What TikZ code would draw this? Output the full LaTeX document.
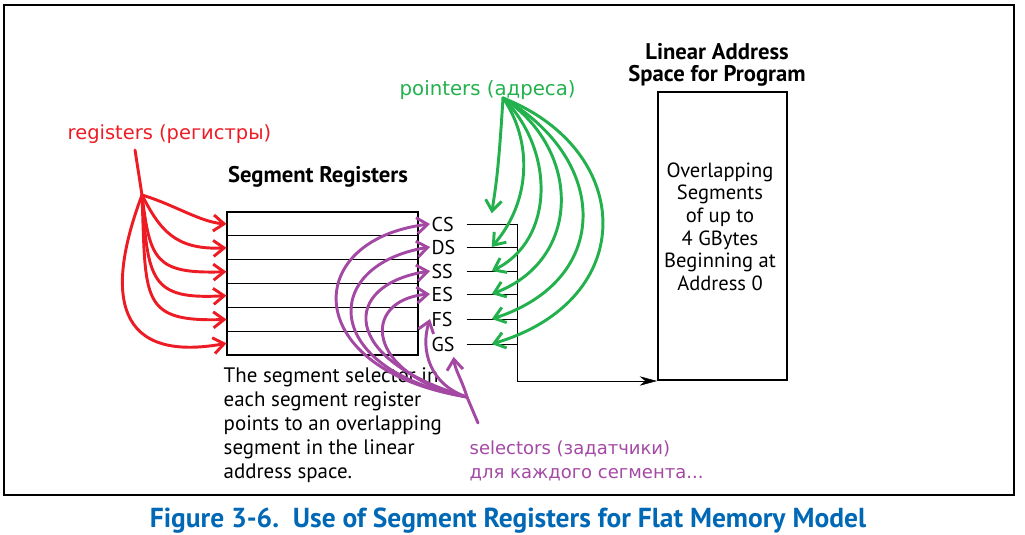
\documentclass[tikz,border=0pt]{standalone}
\usepackage{fontspec}
\setmainfont{PT Sans}
\newfontfamily\penfont{DejaVu Sans}
\usetikzlibrary{arrows.meta, positioning}
\definecolor{penred}{RGB}{237,28,36}
\definecolor{pengreen}{RGB}{34,177,76}
\definecolor{penpurple}{RGB}{163,73,164}
\definecolor{intelblue}{RGB}{0,104,181}

\begin{document}
\begin{tikzpicture}[
    x=0.75pt, y=-0.75pt,
    segrow/.style={rectangle, draw=black, line width=0.7pt, minimum width=143.25pt, minimum height=17.9pt, inner sep=0pt, outer sep=0pt},
    seglabel/.style={anchor=west, text width=25pt, inner sep=1pt, font=\fontsize{15}{16}\selectfont},
    heading/.style={font=\bfseries\fontsize{17}{16.5}\selectfont, align=center},
    body/.style={font=\fontsize{15.7}{18}\selectfont},
    note/.style={font=\penfont\fontsize{13.5}{18}\selectfont, align=left},
    pen/.style={line width=2.2pt, line cap=round, line join=round},
    penarrow/.style={pen, -{Straight Barb[length=8pt, width=12pt]}}
  ]
  \useasboundingbox (0,0) rectangle (1025,535);
  \draw[line width=1.6pt] (4,5) rectangle (1014,495);

  % segment registers
  \node[segrow] (row1) at (322,224) {};
  \node[segrow, below=0pt of row1] (row2) {};
  \node[segrow, below=0pt of row2] (row3) {};
  \node[segrow, below=0pt of row3] (row4) {};
  \node[segrow, below=0pt of row4] (row5) {};
  \node[segrow, below=0pt of row5] (row6) {};
  \draw[line width=1.5pt] (row1.north west) rectangle (row6.south east);
  \node[heading] (segtitle) at (318,177) {Segment Registers};

  \node[seglabel] (cs) at (430,224) {CS};
  \node[seglabel] (ds) at (430,247) {DS};
  \node[seglabel] (ss) at (430,271) {SS};
  \node[seglabel] (es) at (430,294) {ES};
  \node[seglabel] (fs) at (430,319) {FS};
  \node[seglabel] (gs) at (430,344) {GS};

  \coordinate (bus) at (517,224);
  \draw (cs.east) -- coordinate[pos=0.5] (csptr) (cs.east -| bus);
  \draw (ds.east) -- coordinate[pos=0.5] (dsptr) (ds.east -| bus);
  \draw (ss.east) -- coordinate[pos=0.5] (ssptr) (ss.east -| bus);
  \draw (es.east) -- coordinate[pos=0.5] (esptr) (es.east -| bus);
  \draw (fs.east) -- coordinate[pos=0.5] (fsptr) (fs.east -| bus);
  \draw (gs.east) -- coordinate[pos=0.5] (gsptr) (gs.east -| bus);

  \node[body, align=left, anchor=north west] (expl) at (219,363)
    {The segment selector in\\each segment register\\points to an overlapping\\segment in the linear\\address space.};

  % linear address space
  \node[rectangle, draw=black, line width=1.5pt, minimum width=96.75pt, minimum height=216pt] (lin) at (722.5,236) {};
  \node[heading] (lintitle) at (717,65) {Linear Address\\Space for Program};
  \node[body, align=center, font=\fontsize{15.4}{17}\selectfont] (lintext) at (720,226.5)
    {Overlapping\\Segments\\ of up to\\4 GBytes\\Beginning at\\Address 0};
  \draw[-{Stealth[length=13pt, width=7pt]}] (bus) |- (lin.south west);

  % red notes
  \node[note, text=penred, anchor=west, font=\penfont\fontsize{14.6}{18}\selectfont] (reglabel) at (63,134) {registers (регистры)};
  \coordinate (regtop) at (135,150);
  \coordinate (regfork) at (142,195);
  \draw[pen, penred] (regtop) -- (regfork);
  \draw[penarrow, penred] (regfork) .. controls (175,205) and (200,222) .. (row1.west);
  \draw[penarrow, penred] (regfork) .. controls (160,230) and (175,250) .. (row2.west);
  \draw[penarrow, penred] (regfork) .. controls (150,260) and (155,274) .. (row3.west);
  \draw[penarrow, penred] (regfork) .. controls (148,280) and (150,300) .. (row4.west);
  \draw[penarrow, penred] (regfork) .. controls (146,300) and (140,322) .. (row5.west);
  \draw[penarrow, penred] (regfork) .. controls (110,280) and (105,365) .. (row6.west);

  % green notes
  \node[note, text=pengreen, anchor=west, font=\penfont\fontsize{14.8}{18}\selectfont] (ptrlabel) at (395,90) {pointers (адреса)};
  \coordinate (ptrfork) at (503,98);
  \draw[penarrow, pengreen] (ptrfork) .. controls (498,180) and (495,190) .. ([yshift=8pt]csptr);
  \draw[penarrow, pengreen] (ptrfork) .. controls (532,140) and (532,200) .. (dsptr);
  \draw[penarrow, pengreen] (ptrfork) .. controls (555,150) and (555,240) .. (ssptr);
  \draw[penarrow, pengreen] (ptrfork) .. controls (582,150) and (582,260) .. (esptr);
  \draw[penarrow, pengreen] (ptrfork) .. controls (610,160) and (612,280) .. (fsptr);
  \draw[penarrow, pengreen] (ptrfork) .. controls (635,150) and (640,300) .. (gsptr);

  % purple notes
  \node[note, text=penpurple, anchor=north west] (sellabel) at (465,436)
    {selectors (задатчики)\\для каждого сегмента...};
  \coordinate (selbot) at (478,423);
  \coordinate (selfork) at (467,397);
  \draw[pen, penpurple] (selbot) -- (selfork);
  \draw[penarrow, penpurple] (selfork) .. controls (300,370) and (300,240) .. (cs.west);
  \draw[penarrow, penpurple] (selfork) .. controls (320,370) and (320,265) .. (ds.west);
  \draw[penarrow, penpurple] (selfork) .. controls (340,360) and (340,285) .. (ss.west);
  \draw[penarrow, penpurple] (selfork) .. controls (365,375) and (360,300) .. (es.west);
  \draw[penarrow, penpurple] (selfork) .. controls (430,385) and (420,350) .. (fs.west);
  \draw[penarrow, penpurple] (selfork) .. controls (462,380) and (455,370) .. ([xshift=4pt,yshift=-3pt]gs.south);

  \node[font=\bfseries\fontsize{20.6}{22}\selectfont, text=intelblue] (figcap) at (508,521)
    {Figure 3-6.\ \ Use of Segment Registers for Flat Memory Model};
\end{tikzpicture}
\end{document}
